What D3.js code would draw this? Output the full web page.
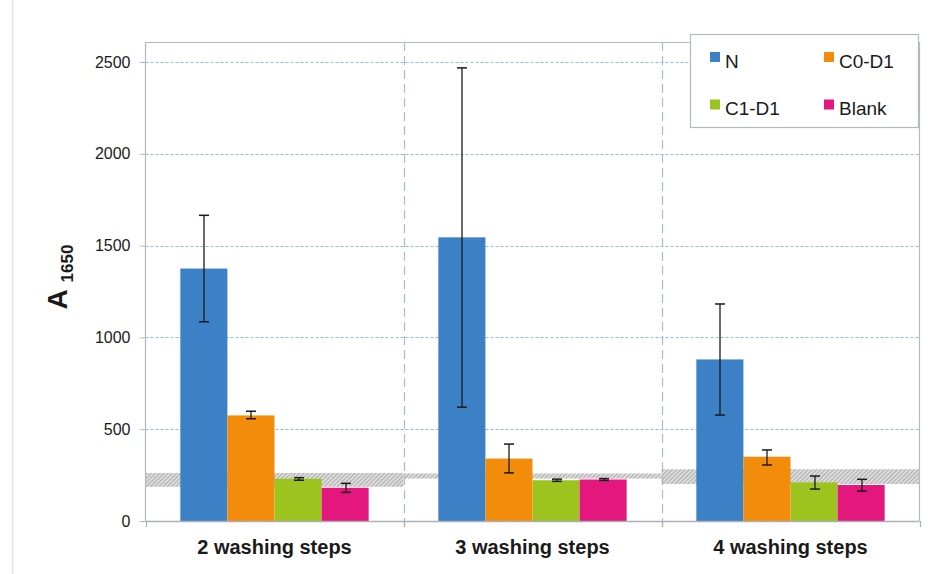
<!DOCTYPE html>
<html><head><meta charset="utf-8">
<script src="https://cdn.jsdelivr.net/npm/d3@7"></script>
<style>body{margin:0;background:#fff}svg{display:block;font-family:"Liberation Sans",Arial,sans-serif}</style>
</head><body><svg id="c" width="948" height="574"></svg>
<script>
const categories = ["2 washing steps", "3 washing steps", "4 washing steps"];
const seriesNames = ["N", "C0-D1", "C1-D1", "Blank"];
const colors = ["#3c80c5", "#f28c0a", "#9dc31f", "#e3177d"];
const valN = [1375, 1545, 880];
const valC0 = [575, 340, 350];
const valC1 = [230, 222, 210];
const valBlank = [181, 226, 196];
const errLoN = [1085, 620, 577];
const errHiN = [1665, 2468, 1182];
const errLoC0 = [557, 262, 305];
const errHiC0 = [598, 419, 387];
const errLoC1 = [222, 216, 174];
const errHiC1 = [236, 228, 245];
const errLoBlank = [156, 221, 163];
const errHiBlank = [205, 231, 227];
const bandLow = [186, 231, 201];
const bandHigh = [262, 259, 282];
const yTicks = [0, 500, 1000, 1500, 2000, 2500];

const values = [valN, valC0, valC1, valBlank];
const errLo = [errLoN, errLoC0, errLoC1, errLoBlank];
const errHi = [errHiN, errHiC0, errHiC1, errHiBlank];

const svg = d3.select("#c");
const L = 145.5, R = 919.5, T = 42, B = 521;
const x = d3.scaleBand().domain(categories).range([L, R]).paddingInner(0).paddingOuter(0);
const xs = d3.scaleBand().domain(seriesNames).range([0, x.bandwidth()]).paddingOuter(0.74).paddingInner(0);
const y = d3.scaleLinear().domain([0, 2500]).range([B, 62]);

// outer frame line
svg.append("line").attr("x1", 12.5).attr("x2", 12.5).attr("y1", 0).attr("y2", 574).attr("stroke", "#dfe4ea").attr("stroke-width", 1.5);

const defs = svg.append("defs");
const pat = defs.append("pattern").attr("id", "hatch").attr("patternUnits", "userSpaceOnUse")
  .attr("width", 3).attr("height", 3).attr("patternTransform", "rotate(45)");
pat.append("rect").attr("width", 3).attr("height", 3).attr("fill", "#dcdcdc");
pat.append("line").attr("x1", 0).attr("y1", 0).attr("x2", 0).attr("y2", 3).attr("stroke", "#8e8e8e").attr("stroke-width", 1.2);

// gridlines
svg.append("g").selectAll("line").data(yTicks.filter(d => d > 0)).join("line")
  .attr("x1", L).attr("x2", R).attr("y1", d => Math.round(y(d)) + 0.5).attr("y2", d => Math.round(y(d)) + 0.5)
  .attr("stroke", "#8fbcd8").attr("stroke-width", 1).attr("stroke-dasharray", "3,2");

// hatched bands
svg.append("g").selectAll("rect").data(categories).join("rect")
  .attr("x", d => x(d)).attr("width", x.bandwidth())
  .attr("y", (d, i) => y(bandHigh[i])).attr("height", (d, i) => y(bandLow[i]) - y(bandHigh[i]))
  .attr("fill", "url(#hatch)");

// dividers
svg.append("g").selectAll("line").data(categories.slice(1)).join("line")
  .attr("x1", d => Math.round(x(d)) + 0.5).attr("x2", d => Math.round(x(d)) + 0.5)
  .attr("y1", T).attr("y2", B + 6)
  .attr("stroke", "#9cc0d8").attr("stroke-width", 1.2).attr("stroke-dasharray", "9,5");

// bars
const groups = svg.append("g").selectAll("g").data(categories).join("g")
  .attr("transform", d => `translate(${x(d)},0)`);
groups.each(function(cat, ci) {
  const g = d3.select(this);
  seriesNames.forEach((s, si) => {
    const v = values[si][ci];
    g.append("rect").attr("x", xs(s)).attr("width", xs.bandwidth())
      .attr("y", y(v)).attr("height", y(0) - y(v)).attr("fill", colors[si]);
  });
  seriesNames.forEach((s, si) => {
    const cx = Math.round(xs(s) + xs.bandwidth() / 2) + 0.5;
    const lo = y(errLo[si][ci]), hi = y(errHi[si][ci]);
    g.append("line").attr("x1", cx).attr("x2", cx).attr("y1", lo).attr("y2", hi).attr("stroke", "#1a1a1a").attr("stroke-width", 1.3);
    [lo, hi].forEach(yy => g.append("line").attr("x1", cx - 5).attr("x2", cx + 5).attr("y1", yy).attr("y2", yy).attr("stroke", "#1a1a1a").attr("stroke-width", 1.5));
  });
});

// plot border
svg.append("path").attr("d", `M${L},${B}V${T + 0.5}H${R}V${B}`).attr("fill", "none").attr("stroke", "#b4b9bf").attr("stroke-width", 1.2);

// y axis
const yAxis = d3.axisLeft(y).tickValues(yTicks).tickSize(6).tickPadding(9).tickFormat(d3.format("d"));
const ya = svg.append("g").attr("transform", `translate(${L},0)`).call(yAxis);
ya.select(".domain").remove();
ya.selectAll(".tick line").attr("stroke", "#b4b9bf");
ya.selectAll(".tick text").attr("font-size", 16).attr("fill", "#1a1a1a").attr("font-family", "Liberation Sans, Arial, sans-serif");

// x axis
const xAxis = d3.axisBottom(x).tickSize(0).tickPadding(0);
const xa = svg.append("g").attr("transform", `translate(0,${B})`).call(xAxis);
xa.select(".domain").attr("stroke", "#a9b0b8").attr("stroke-width", 1.3).attr("d", `M${L},0.5H${R}`);
xa.selectAll(".tick text").attr("font-size", 20).attr("font-weight", "bold").attr("fill", "#1a1a1a")
  .attr("font-family", "Liberation Sans, Arial, sans-serif").attr("dy", null).attr("y", 33);
// boundary ticks
svg.append("g").selectAll("line").data([L, ...categories.slice(1).map(c => x(c)), R]).join("line")
  .attr("x1", d => Math.round(d) + 0.5).attr("x2", d => Math.round(d) + 0.5)
  .attr("y1", B).attr("y2", B + 6).attr("stroke", "#a9b0b8").attr("stroke-width", 1.2);

// y title
const yt = svg.append("text").attr("transform", "translate(67,277) rotate(-90)")
  .attr("text-anchor", "middle").attr("font-weight", "bold").attr("fill", "#1a1a1a");
yt.append("tspan").attr("font-size", 28).text("A ");
yt.append("tspan").attr("font-size", 17).attr("dy", 6).text("1650");

// legend
const lg = svg.append("g");
lg.append("rect").attr("x", 690.5).attr("y", 34.5).attr("width", 228).attr("height", 93)
  .attr("fill", "#fff").attr("stroke", "#b4b9bf").attr("stroke-width", 1.2);
const lpos = [[710, 52], [824, 52], [710, 99.5], [824, 99.5]];
seriesNames.forEach((s, i) => {
  lg.append("rect").attr("x", lpos[i][0]).attr("y", lpos[i][1]).attr("width", 10).attr("height", 10).attr("fill", colors[i]);
  lg.append("text").attr("x", lpos[i][0] + 15).attr("y", lpos[i][1] + 15.5).attr("font-size", 19).attr("fill", "#1a1a1a").text(s);
});
</script></body></html>
